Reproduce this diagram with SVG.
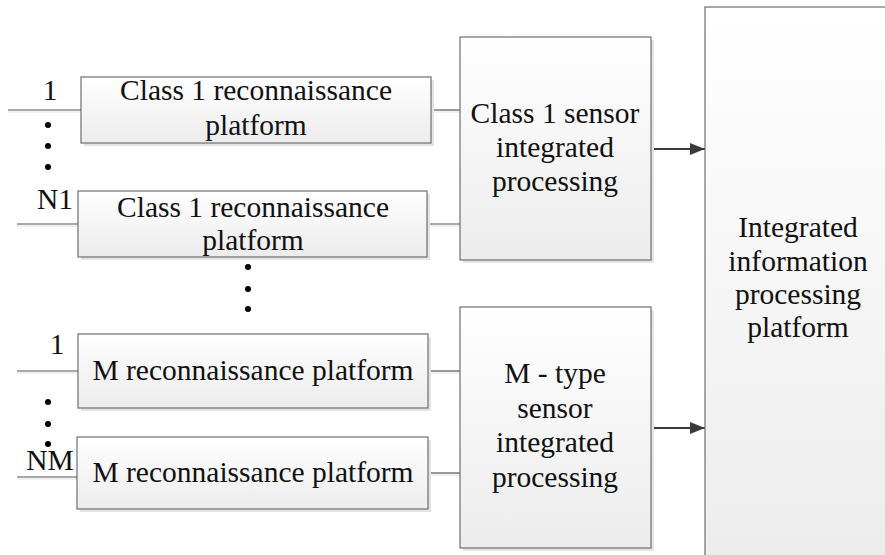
<svg xmlns="http://www.w3.org/2000/svg" width="885" height="555" viewBox="0 0 885 555">
  <defs>
    <linearGradient id="boxFill" x1="0" y1="0" x2="0" y2="1">
      <stop offset="0" stop-color="#ffffff"/>
      <stop offset="1" stop-color="#ececec"/>
    </linearGradient>
    <marker id="arrow" viewBox="0 0 15 12" refX="15" refY="6" markerWidth="15" markerHeight="12" markerUnits="userSpaceOnUse" orient="auto">
      <path d="M0,0 L15,6 L0,12 Z" fill="#3a3a3a"/>
    </marker>
  </defs>
  <style>
    .box { fill: url(#boxFill); stroke: #6e6e6e; stroke-width: 1.2; }
    .shadow { fill: #e4e4e4; }
    text { font-family: 'Liberation Serif', 'DejaVu Serif', serif; font-size: 29.5px; fill: #111; text-anchor: middle; }
    .wire { stroke: #555; stroke-width: 1.2; fill: none; }
    .wire-sh { stroke: #e2e2e2; stroke-width: 1; fill: none; }
    .arrow { stroke: #3a3a3a; stroke-width: 1.8; fill: none; marker-end: url(#arrow); }
    .dot { fill: #000; }
  </style>
  <rect width="885" height="555" fill="#ffffff"/>

  <!-- connectors -->
  <g id="connectors">
    <!-- input lines -->
    <line class="wire-sh" x1="8" y1="112" x2="81" y2="112"/>
    <line class="wire" x1="8" y1="110" x2="81" y2="110"/>
    <line class="wire-sh" x1="17" y1="226" x2="78" y2="226"/>
    <line class="wire" x1="17" y1="224" x2="78" y2="224"/>
    <line class="wire-sh" x1="17" y1="373" x2="78" y2="373"/>
    <line class="wire" x1="17" y1="371" x2="78" y2="371"/>
    <line class="wire-sh" x1="17" y1="479" x2="78" y2="479"/>
    <line class="wire" x1="17" y1="477" x2="78" y2="477"/>
    <!-- platforms to sensor processing -->
    <line class="wire-sh" x1="431" y1="112" x2="460" y2="112"/>
    <line class="wire" x1="431" y1="110" x2="460" y2="110"/>
    <line class="wire-sh" x1="427" y1="226" x2="460" y2="226"/>
    <line class="wire" x1="427" y1="224" x2="460" y2="224"/>
    <line class="wire-sh" x1="428" y1="373" x2="460" y2="373"/>
    <line class="wire" x1="428" y1="371" x2="460" y2="371"/>
    <line class="wire-sh" x1="428" y1="475" x2="460" y2="475"/>
    <line class="wire" x1="428" y1="473" x2="460" y2="473"/>
    <!-- sensor processing to integrated platform -->
    <line class="arrow" x1="651" y1="149" x2="705" y2="149"/>
    <line class="arrow" x1="651" y1="428" x2="705" y2="428"/>
  </g>

  <!-- ellipsis dots -->
  <g id="dots">
    <circle class="dot" cx="48" cy="125" r="3"/>
    <circle class="dot" cx="48" cy="146" r="3"/>
    <circle class="dot" cx="48" cy="167" r="3"/>
    <circle class="dot" cx="248" cy="267" r="3"/>
    <circle class="dot" cx="248" cy="289" r="3"/>
    <circle class="dot" cx="248" cy="309" r="3"/>
    <circle class="dot" cx="48" cy="402" r="3"/>
    <circle class="dot" cx="48" cy="424" r="3"/>
    <circle class="dot" cx="48" cy="444" r="3"/>
  </g>

  <!-- input index labels -->
  <g id="labels">
    <text x="50" y="100">1</text>
    <text x="55" y="209">N1</text>
    <text x="57" y="354">1</text>
    <text x="50" y="470">NM</text>
  </g>

  <g id="class1-platform-1">
    <rect class="shadow" x="84" y="80" width="350" height="66"/>
    <rect class="box" x="81" y="77" width="350" height="66"/>
    <text x="256" y="100">Class 1 reconnaissance</text>
    <text x="256" y="135">platform</text>
  </g>

  <g id="class1-platform-n1">
    <rect class="shadow" x="81" y="194" width="349" height="66"/>
    <rect class="box" x="78" y="191" width="349" height="66"/>
    <text x="253" y="217">Class 1 reconnaissance</text>
    <text x="253" y="250">platform</text>
  </g>

  <g id="m-platform-1">
    <rect class="shadow" x="81" y="337" width="350" height="74"/>
    <rect class="box" x="78" y="334" width="350" height="74"/>
    <text x="253" y="380">M reconnaissance platform</text>
  </g>

  <g id="m-platform-nm">
    <rect class="shadow" x="80" y="440" width="351" height="72"/>
    <rect class="box" x="77" y="437" width="351" height="72"/>
    <text x="253" y="482">M reconnaissance platform</text>
  </g>

  <g id="class1-sensor-processing">
    <rect class="shadow" x="463" y="40" width="191" height="223"/>
    <rect class="box" x="460" y="37" width="191" height="223"/>
    <text x="555" y="123">Class 1 sensor</text>
    <text x="555" y="157">integrated</text>
    <text x="555" y="191">processing</text>
  </g>

  <g id="m-sensor-processing">
    <rect class="shadow" x="463" y="310" width="191" height="241"/>
    <rect class="box" x="460" y="307" width="191" height="241"/>
    <text x="555" y="383">M - type</text>
    <text x="555" y="418">sensor</text>
    <text x="555" y="452">integrated</text>
    <text x="555" y="487">processing</text>
  </g>

  <g id="integrated-platform">
    <rect class="box" x="705" y="7" width="200" height="570"/>
    <text x="798" y="237">Integrated</text>
    <text x="798" y="271">information</text>
    <text x="798" y="304">processing</text>
    <text x="798" y="337">platform</text>
  </g>
</svg>
